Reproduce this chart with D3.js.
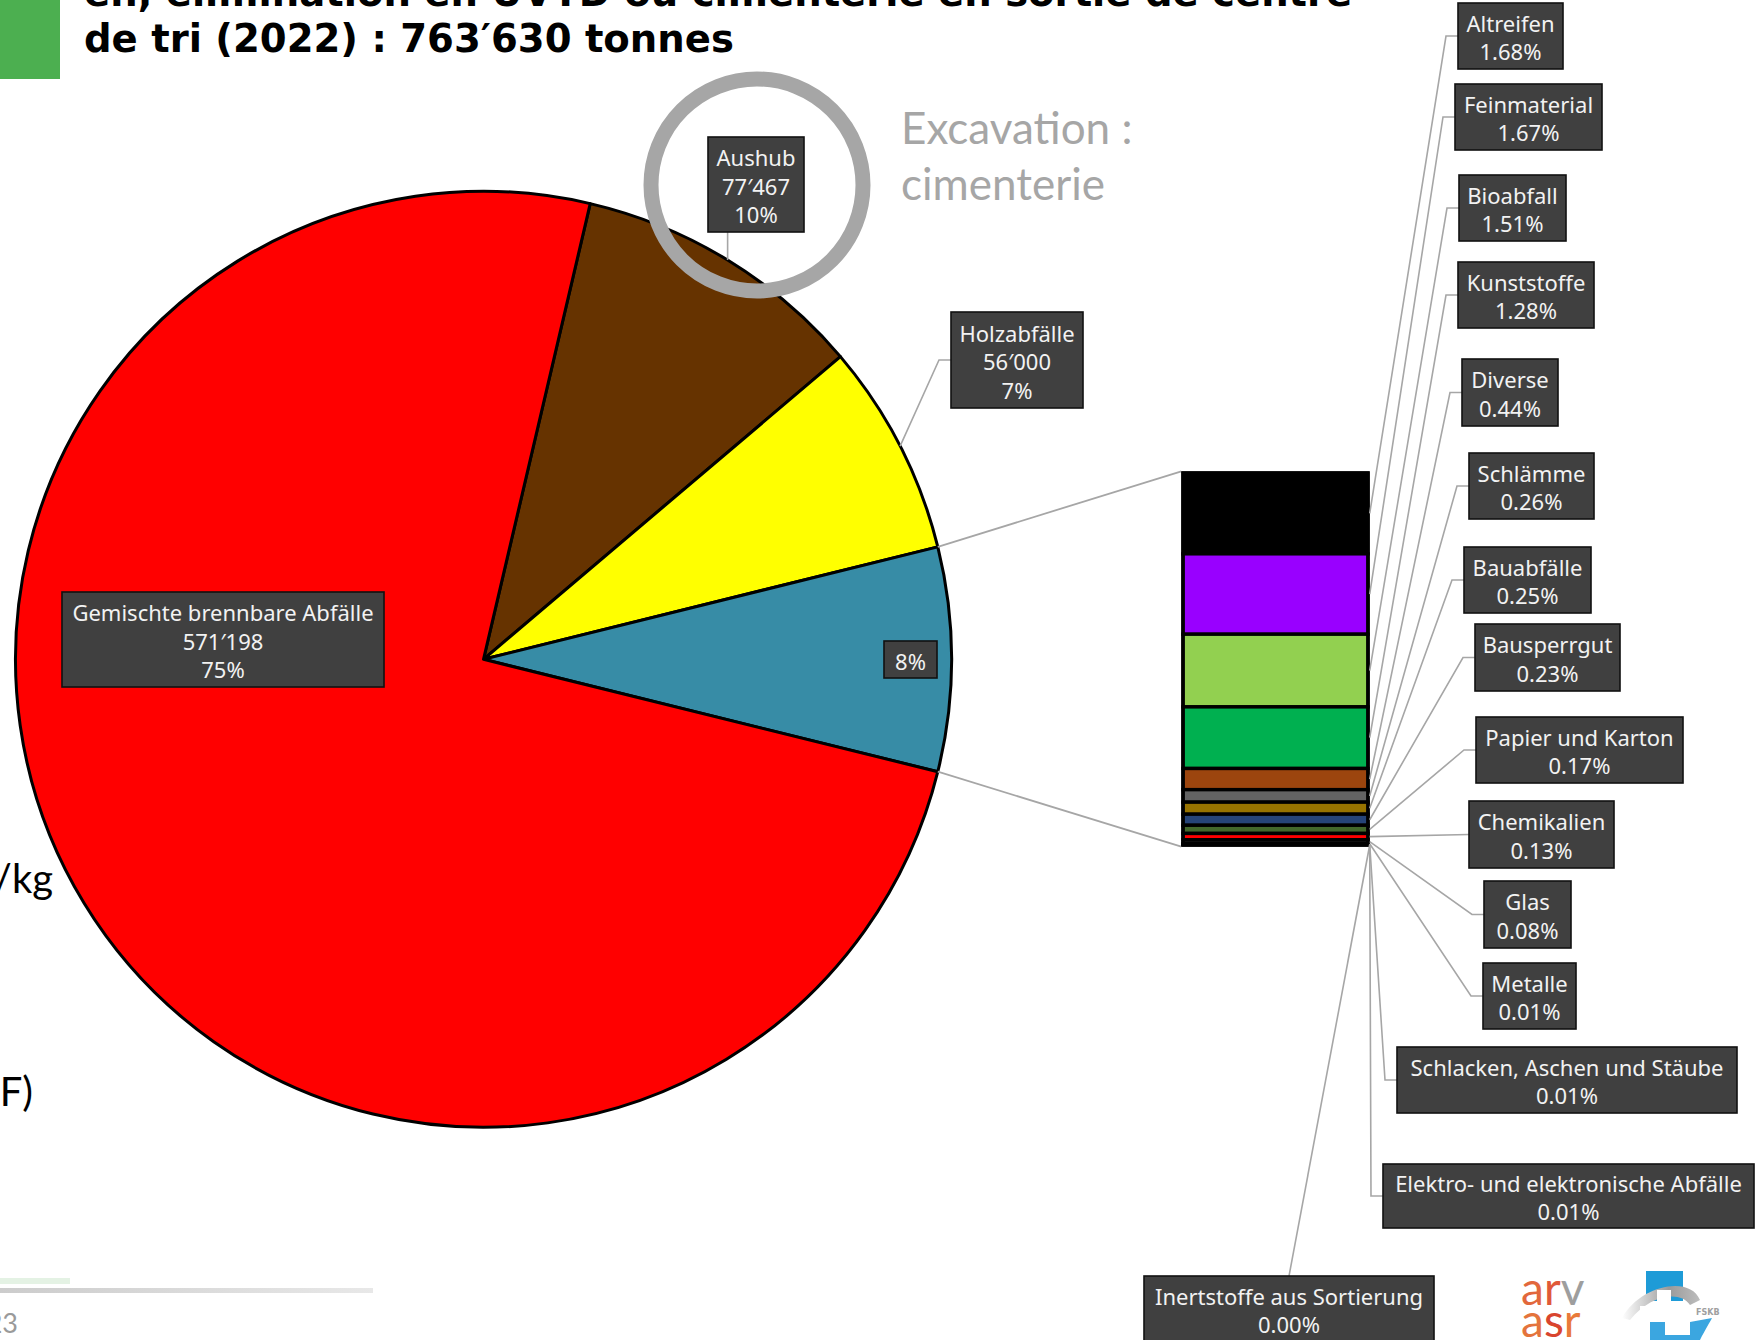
<!DOCTYPE html>
<html>
<head>
<meta charset="utf-8">
<script src="https://cdn.jsdelivr.net/npm/d3@7"></script>
<style>
  body { margin: 0; background: #fff; }
  svg { display: block; }
</style>
</head>
<body>
<svg id="chart" width="1755" height="1340"></svg>
<script>
// ---- data ---------------------------------------------------------------
const totalTonnes = 763630;
const pieCategories = ["Aushub", "Holzabfälle", "Übrige", "Gemischte brennbare Abfälle"];
const pieNamedTonnes = [77467, 56000, null, 571198];          // "Übrige" = remainder of total
const subCategories = [
  "Altreifen", "Feinmaterial", "Bioabfall", "Kunststoffe", "Diverse",
  "Schlämme", "Bauabfälle", "Bausperrgut", "Papier und Karton", "Chemikalien",
  "Glas", "Metalle", "Schlacken, Aschen und Stäube",
  "Elektro- und elektronische Abfälle", "Inertstoffe aus Sortierung"
];
const subPercent = [1.68, 1.67, 1.51, 1.28, 0.44, 0.26, 0.25, 0.23, 0.17, 0.13, 0.08, 0.01, 0.01, 0.01, 0.00];

// ---- styles -------------------------------------------------------------
const pieColors = ["#663300", "#FFFF00", "#378CA6", "#FF0000"];
const subColors = ["#000000", "#9900FF", "#92D050", "#00B050", "#9C450E",
                   "#636363", "#977300", "#264478", "#43682B", "#FF0000",
                   "#262626", "#1a1a1a", "#1a1a1a", "#1a1a1a", "#1a1a1a"];
const boxFill = "#404040", boxText = "#F2F2F2", leaderColor = "#A6A6A6";

// ---- layout -------------------------------------------------------------
const pieCenter = [483.5, 659.3], pieRadius = 468;
const bar = { x0: 1183, x1: 1368, y0: 473, y1: 845, stroke: 3.4 };
// label boxes [x0, y0, x1, y1]
const pieLabelBoxes = [[708, 137, 804, 232], [951, 312, 1083, 408], [884, 641, 937, 678], [62, 592, 384, 687]];
const subLabelBoxes = [
  [1458, 3, 1563, 69], [1455, 84, 1602, 150], [1459, 175, 1566, 241], [1458, 262, 1594, 328],
  [1462, 359, 1558, 426], [1469, 453, 1594, 519], [1464, 547, 1591, 613], [1475, 624, 1620, 691],
  [1476, 717, 1683, 783], [1469, 801, 1614, 868], [1484, 881, 1571, 948], [1483, 963, 1576, 1029],
  [1397, 1047, 1737, 1113], [1383, 1164, 1754, 1228], [1144, 1276, 1434, 1342]
];

const svg = d3.select("#chart");
const boxFont = "'Noto Sans', 'Open Sans', sans-serif";

// ---- header -------------------------------------------------------------
svg.append("rect").attr("x", 0).attr("y", 0).attr("width", 60).attr("height", 79).attr("fill", "#4CAF50");
const title = svg.append("g").attr("font-family", "'DejaVu Sans', Verdana, sans-serif")
  .attr("font-weight", "bold").attr("font-size", 38.6).attr("fill", "#000");
title.append("text").attr("x", 84).attr("y", 6).text("en, élimination en UVTD ou cimenterie en sortie de centre");
title.append("text").attr("x", 84).attr("y", 52).text("de tri (2022) : 763′630 tonnes");

// ---- side notes & footer -------------------------------------------------
const side = svg.append("g").attr("font-family", "Lato, 'Open Sans', sans-serif");
side.append("text").attr("x", 53).attr("y", 893).attr("text-anchor", "end").attr("font-size", 40).attr("fill", "#000").text("/kg");
side.append("text").attr("x", 33).attr("y", 1106).attr("text-anchor", "end").attr("font-size", 40).attr("fill", "#000").text("F)");
side.append("text").attr("x", 18).attr("y", 1333).attr("text-anchor", "end").attr("font-size", 27).attr("fill", "#9a9a9a").text("23");

const defs = svg.append("defs");
const lg = defs.append("linearGradient").attr("id", "footLine");
lg.append("stop").attr("offset", "0%").attr("stop-color", "#cccccc");
lg.append("stop").attr("offset", "100%").attr("stop-color", "#e8e8e8");
svg.append("rect").attr("x", 0).attr("y", 1278).attr("width", 70).attr("height", 6).attr("fill", "#E4F2E4");
svg.append("rect").attr("x", 0).attr("y", 1288).attr("width", 373).attr("height", 5).attr("fill", "url(#footLine)");

// ---- pie ----------------------------------------------------------------
const pieTonnes = pieNamedTonnes.map(v => v === null ? totalTonnes - d3.sum(pieNamedTonnes) : v);
const othersIndex = pieNamedTonnes.indexOf(null);
const angleScale = d3.scaleLinear().domain([0, totalTonnes]).range([0, 2 * Math.PI]);
// rotate so that the "Übrige" slice is centred on the right-hand horizontal
const before = d3.sum(pieTonnes.slice(0, othersIndex)) + pieTonnes[othersIndex] / 2;
const start = Math.PI / 2 - angleScale(before);
const arcs = d3.pie().sort(null).value(d => d).startAngle(start).endAngle(start + 2 * Math.PI)(pieTonnes);
const arc = d3.arc().innerRadius(0).outerRadius(pieRadius);

const pieG = svg.append("g").attr("transform", `translate(${pieCenter})`);
pieG.selectAll("path").data(arcs).join("path")
  .attr("d", arc)
  .attr("fill", (d, i) => pieColors[i])
  .attr("stroke", "#000").attr("stroke-width", 3).attr("stroke-linejoin", "round");

const polar = (a, r) => [pieCenter[0] + r * Math.sin(a), pieCenter[1] - r * Math.cos(a)];

// connectors from the "Übrige" slice to the bar
const oArc = arcs[othersIndex];
const conn = svg.append("g").attr("stroke", leaderColor).attr("stroke-width", 1.8).attr("fill", "none");
conn.append("line").attr("x1", polar(oArc.startAngle, pieRadius)[0]).attr("y1", polar(oArc.startAngle, pieRadius)[1])
  .attr("x2", bar.x0 - bar.stroke / 2).attr("y2", bar.y0 - bar.stroke / 2);
conn.append("line").attr("x1", polar(oArc.endAngle, pieRadius)[0]).attr("y1", polar(oArc.endAngle, pieRadius)[1])
  .attr("x2", bar.x0 - bar.stroke / 2).attr("y2", bar.y1 + bar.stroke / 2);

// ---- bar of the remainder --------------------------------------------------
const yBar = d3.scaleLinear().domain([0, d3.sum(subPercent)]).range([bar.y0, bar.y1]);
const cum = d3.cumsum(subPercent);
const segs = subPercent.map((p, i) => ({ p, i, a: cum[i] - p, b: cum[i] }));
svg.append("g").selectAll("rect").data(segs).join("rect")
  .attr("x", bar.x0).attr("width", bar.x1 - bar.x0)
  .attr("y", d => yBar(d.a)).attr("height", d => yBar(d.b) - yBar(d.a))
  .attr("fill", d => subColors[d.i])
  .attr("stroke", "#000").attr("stroke-width", bar.stroke);
svg.append("rect").attr("x", bar.x0).attr("y", bar.y0).attr("width", bar.x1 - bar.x0).attr("height", bar.y1 - bar.y0)
  .attr("fill", "none").attr("stroke", "#000").attr("stroke-width", bar.stroke);

// ---- label helpers ---------------------------------------------------------
function drawBox(g, box, lines, gap) {
  const [x0, y0, x1, y1] = box;
  g.append("rect").attr("x", x0).attr("y", y0).attr("width", x1 - x0).attr("height", y1 - y0)
    .attr("fill", boxFill).attr("stroke", "#111").attr("stroke-width", 1.6);
  const cy = (y0 + y1) / 2 + 1, cx = (x0 + x1) / 2;
  lines.forEach((t, k) => {
    g.append("text").attr("x", cx).attr("y", cy + (k - (lines.length - 1) / 2) * gap)
      .attr("text-anchor", "middle").attr("dominant-baseline", "central")
      .attr("font-family", boxFont).attr("font-size", 22).attr("fill", boxText).text(t);
  });
}
function leader(g, from, box) {
  const [x0, y0, x1, y1] = box;
  const cx = (x0 + x1) / 2, cy = (y0 + y1) / 2;
  let pts;
  if (from[0] < x0 - 12 && Math.abs(from[1] - cy) < 6) {
    pts = [from, [x0, cy]];                                   // straight across
  } else if (from[0] < x0 - 12) {
    pts = [from, [x0 - 12, cy], [x0, cy]];                    // elbow into the left side
  } else if (from[1] > y1) {
    pts = [from, [Math.max(x0, Math.min(x1, from[0])), y1]];  // box above the anchor
  } else {
    pts = [from, [cx, y0]];                                   // box below the anchor
  }
  g.append("path").attr("d", d3.line()(pts)).attr("fill", "none")
    .attr("stroke", leaderColor).attr("stroke-width", 1.6);
}

const fmtT = d3.formatLocale({ decimal: ".", thousands: "′", grouping: [3], currency: ["", ""] }).format(",d");
const pct0 = v => Math.round(v / totalTonnes * 100) + "%";

// ---- pie labels --------------------------------------------------------------
const pieLab = svg.append("g");
arcs.forEach((d, i) => {
  const box = pieLabelBoxes[i];
  const mid = (d.startAngle + d.endAngle) / 2;
  const p = polar(mid, pieRadius);
  const outside = Math.hypot((box[0] + box[2]) / 2 - pieCenter[0], (box[1] + box[3]) / 2 - pieCenter[1]) > pieRadius;
  if (outside) leader(pieLab, p, box);
  const lines = i === othersIndex ? [pct0(d.data)] : [pieCategories[i], fmtT(d.data), pct0(d.data)];
  drawBox(pieLab, box, lines, 28.5);
});

// ---- bar labels ------------------------------------------------------------
const subLab = svg.append("g");
segs.forEach((d, i) => {
  const anchor = [bar.x1 + bar.stroke / 2, yBar((d.a + d.b) / 2)];
  leader(subLab, anchor, subLabelBoxes[i]);
});
segs.forEach((d, i) => {
  drawBox(subLab, subLabelBoxes[i], [subCategories[i], d3.format(".2f")(d.p) + "%"], 28.5);
});

// ---- highlight ring + note ---------------------------------------------------
svg.append("circle").attr("cx", 757).attr("cy", 185).attr("r", 106)
  .attr("fill", "none").attr("stroke", "#A6A6A6").attr("stroke-width", 15);
const note = svg.append("g").attr("font-family", "Lato, 'Open Sans', sans-serif").attr("font-size", 44).attr("fill", "#A6A6A6");
note.append("text").attr("x", 901).attr("y", 144).text("Excavation :");
note.append("text").attr("x", 901).attr("y", 200).text("cimenterie");

// ---- logos -----------------------------------------------------------------
const logo = svg.append("g").attr("font-family", "Lato, 'Open Sans', sans-serif").attr("font-size", 46);
const l1 = logo.append("text").attr("x", 1521).attr("y", 1305);
l1.append("tspan").attr("fill", "#E2683C").text("a");
l1.append("tspan").attr("fill", "#E0593A").text("r");
l1.append("tspan").attr("fill", "#9E9E9E").text("v");
const l2 = logo.append("text").attr("x", 1521).attr("y", 1337);
l2.append("tspan").attr("fill", "#E4743C").text("a");
l2.append("tspan").attr("fill", "#D9452E").text("s");
l2.append("tspan").attr("fill", "#E97A3A").text("r");

const fskb = svg.append("g");
const sg = defs.append("linearGradient").attr("id", "swoosh").attr("x1", "0%").attr("x2", "100%");
sg.append("stop").attr("offset", "0%").attr("stop-color", "#ffffff");
sg.append("stop").attr("offset", "60%").attr("stop-color", "#9a9a9a");
sg.append("stop").attr("offset", "100%").attr("stop-color", "#bdbdbd");
fskb.append("rect").attr("x", 1646).attr("y", 1271).attr("width", 37).attr("height", 30).attr("fill", "#1E9BD7");
fskb.append("path").attr("d", "M1622,1318 C1640,1285 1690,1275 1700,1300 L1690,1305 C1680,1290 1650,1295 1630,1320 Z").attr("fill", "url(#swoosh)");
fskb.append("rect").attr("x", 1657).attr("y", 1290).attr("width", 14).attr("height", 50).attr("fill", "#fff");
fskb.append("rect").attr("x", 1640).attr("y", 1306).attr("width", 48).attr("height", 13).attr("fill", "#fff");
fskb.append("path").attr("d", "M1650,1322 L1650,1340 L1700,1340 C1705,1330 1710,1322 1712,1318 L1690,1322 L1690,1335 L1665,1335 L1665,1322 Z").attr("fill", "#3BA6E0");
fskb.append("text").attr("x", 1696).attr("y", 1315).attr("font-family", "'DejaVu Sans', sans-serif")
  .attr("font-size", 8).attr("font-weight", "bold").attr("fill", "#a0a0a0").text("FSKB");
</script>
</body>
</html>
